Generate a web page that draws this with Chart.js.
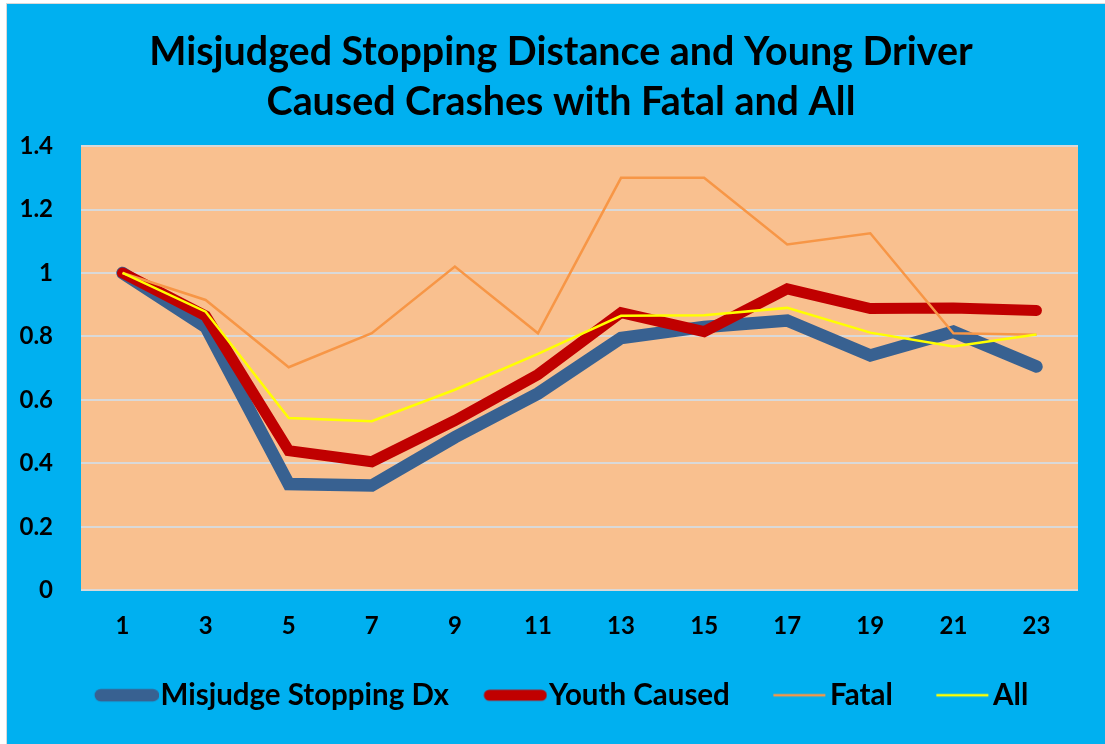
<!DOCTYPE html>
<html>
<head>
<meta charset="utf-8">
<script src="https://cdn.jsdelivr.net/npm/chart.js@4"></script>
<style>
  body { margin: 0; background: #fff; }
  #box {
    position: absolute; left: 6px; top: 3px; width: 1099px; height: 741px;
    background: #00B0F0; border-left: 1px solid #d9d9d9; border-top: 1px solid #d9d9d9;
  }
</style>
</head>
<body>
<div id="box"><canvas id="chart"></canvas></div>
<script>
const categories = ["1", "3", "5", "7", "9", "11", "13", "15", "17", "19", "21", "23"];
const misjudge = [1.0, 0.83, 0.335, 0.33, 0.482, 0.62, 0.795, 0.83, 0.85, 0.74, 0.815, 0.705];
const youth = [1.0, 0.865, 0.44, 0.405, 0.535, 0.68, 0.875, 0.815, 0.95, 0.888, 0.89, 0.882];
const fatal = [1.0, 0.915, 0.703, 0.81, 1.02, 0.81, 1.30, 1.30, 1.09, 1.125, 0.81, 0.805];
const all = [1.0, 0.878, 0.543, 0.533, 0.632, 0.745, 0.865, 0.867, 0.89, 0.812, 0.768, 0.806];
const yTicks = [0, 0.2, 0.4, 0.6, 0.8, 1, 1.2, 1.4];

const FONT = "Lato, 'Open Sans', sans-serif";

// orange plot area behind the lines
const plotBg = {
  id: "plotBg",
  beforeDraw(chart) {
    const { ctx, chartArea: a } = chart;
    ctx.save();
    ctx.fillStyle = "#F9C08F";
    ctx.fillRect(a.left, a.top, a.right - a.left, a.bottom - a.top);
    ctx.restore();
  }
};

// legend sample: line sits at the right of a wider transparent image so it hugs the text
const sample = (color, width, cap) => {
  const c = document.createElement("canvas");
  c.width = 78;
  c.height = 16;
  const g = c.getContext("2d");
  const shift = cap === "round" ? 0 : 3;
  g.strokeStyle = color;
  g.lineWidth = width;
  g.lineCap = cap;
  g.beginPath();
  g.moveTo(20 + shift, 8);
  g.lineTo(72 + shift, 8);
  g.stroke();
  return c;
};

const series = (label, data, color, width, order, cap) => ({
  label, data, order,
  yAxisID: "y",
  borderColor: color,
  backgroundColor: color,
  borderWidth: width,
  borderCapStyle: cap,
  pointRadius: 0,
  pointHoverRadius: 0,
  tension: 0,
  fill: false,
  legendImg: sample(color, width, cap)
});

new Chart(document.getElementById("chart"), {
  type: "line",
  plugins: [plotBg],
  data: {
    labels: categories,
    datasets: [
      series("Misjudge Stopping Dx", misjudge, "#386191", 12.5, 4, "round"),
      series("Youth Caused", youth, "#C00000", 11, 3, "round"),
      series("Fatal", fatal, "#F79646", 2.5, 2, "butt"),
      series("All", all, "#FFFF00", 2.5, 1, "butt")
    ]
  },
  options: {
    responsive: true,
    maintainAspectRatio: false,
    animation: false,
    layout: { padding: { left: 12, right: 3, top: 8, bottom: 25 } },
    plugins: {
      tooltip: { enabled: false },
      title: {
        display: true,
        text: ["Misjudged Stopping Distance and Young Driver", "Caused Crashes with Fatal and All"],
        color: "#000",
        font: { family: FONT, size: 39.4, weight: "bold", lineHeight: 1.27 },
        padding: { top: 15, bottom: 19 }
      },
      legend: {
        position: "bottom",
        labels: {
          color: "#000",
          font: { family: FONT, size: 29.5, weight: "bold" },
          padding: 33.5,
          usePointStyle: true,
          pointStyleWidth: 52,
          generateLabels: (chart) => chart.data.datasets.map((ds, i) => ({
            text: ds.label,
            datasetIndex: i,
            strokeStyle: ds.borderColor,
            fillStyle: ds.borderColor,
            lineWidth: 0,
            pointStyle: ds.legendImg,
            fontColor: "#000",
            hidden: false
          }))
        }
      }
    },
    scales: {
      x: {
        offset: true,
        afterFit: (axis) => { axis.height = 56.75; },
        grid: { display: false, drawTicks: false },
        border: { display: false },
        ticks: { color: "#000", font: { family: FONT, size: 24, weight: "bold" }, padding: 22 }
      },
      y: {
        min: 0,
        max: 1.4,
        afterBuildTicks: (axis) => { axis.ticks = yTicks.map(v => ({ value: v })); },
        afterFit: (axis) => { axis.width = 62; },
        grid: { color: "#D9D9D9", lineWidth: 2, drawTicks: false },
        border: { display: false },
        ticks: {
          color: "#000",
          font: { family: FONT, size: 24, weight: "bold" },
          padding: 28,
          callback: (v) => String(Math.round(v * 10) / 10)
        }
      },
      // empty right margin so the title and legend stay centred on the page
      yRight: {
        position: "right",
        afterFit: (axis) => { axis.width = 25; },
        grid: { display: false, drawTicks: false },
        border: { display: false },
        ticks: { display: false }
      }
    }
  }
});
</script>
</body>
</html>
